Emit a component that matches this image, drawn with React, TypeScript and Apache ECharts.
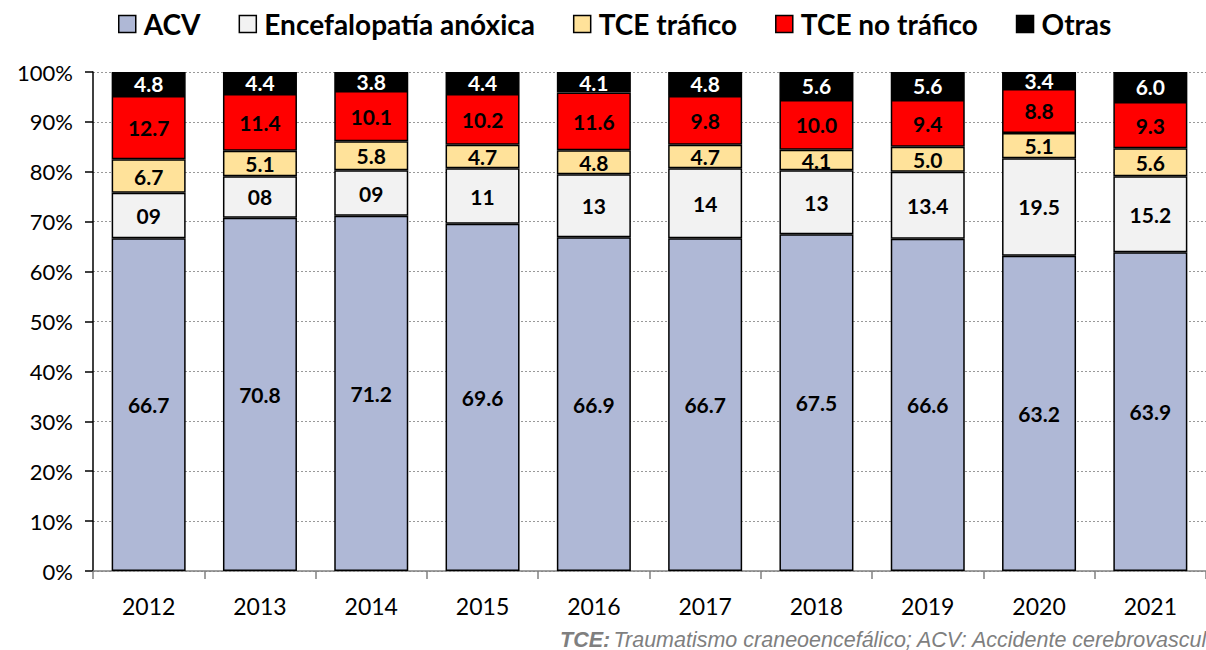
import React, { useEffect, useRef } from "react";
import * as echarts from "echarts";

const years = ["2012", "2013", "2014", "2015", "2016", "2017", "2018", "2019", "2020", "2021"];
const acv = [66.7, 70.8, 71.2, 69.6, 66.9, 66.7, 67.5, 66.6, 63.2, 63.9];
const encef = [9.1, 8.3, 9.1, 11.1, 12.6, 14.0, 12.8, 13.4, 19.5, 15.2];
const encefLabels = ["09", "08", "09", "11", "13", "14", "13", "13.4", "19.5", "15.2"];
const tceTrafico = [6.7, 5.1, 5.8, 4.7, 4.8, 4.7, 4.1, 5.0, 5.1, 5.6];
const tceNoTrafico = [12.7, 11.4, 10.1, 10.2, 11.6, 9.8, 10.0, 9.4, 8.8, 9.3];
const otras = [4.8, 4.4, 3.8, 4.4, 4.1, 4.8, 5.6, 5.6, 3.4, 6.0];
const yTicks = [0, 10, 20, 30, 40, 50, 60, 70, 80, 90, 100];

const seriesNames = ["ACV", "Encefalopatía anóxica", "TCE tráfico", "TCE no tráfico", "Otras"];
const seriesColors = ["#AFB8D6", "#F2F2F2", "#FFE29A", "#FF0000", "#000000"];
const labelColors = ["#000", "#000", "#000", "#000", "#fff"];

export default function App() {
  const ref = useRef<HTMLDivElement>(null);
  useEffect(() => {
    if (!ref.current) return;
    const chart = echarts.init(ref.current, undefined, { renderer: "svg" });
    const data = [acv, encef, tceTrafico, tceNoTrafico, otras];
    const labelTexts = [
      acv.map((v) => v.toFixed(1)),
      encefLabels,
      tceTrafico.map((v) => v.toFixed(1)),
      tceNoTrafico.map((v) => v.toFixed(1)),
      otras.map((v) => v.toFixed(1)),
    ];
    const font = "Lato, 'Open Sans', sans-serif";
    chart.setOption({
      animation: false,
      legend: {
        top: 5,
        left: 113,
        icon: "rect",
        itemWidth: 17,
        itemHeight: 17,
        itemGap: 38,
        itemStyle: { borderColor: "#000", borderWidth: 1.5 },
        textStyle: { fontFamily: font, fontWeight: "bold", fontSize: 28, color: "#000", padding: [0, 0, 0, 3] },
        data: seriesNames,
      },
      grid: { left: 93, right: 0, top: 72, bottom: 79, containLabel: false },
      xAxis: {
        type: "category",
        data: years,
        axisLine: { lineStyle: { color: "#808080", width: 1.5 } },
        axisTick: { show: true, length: 8, lineStyle: { color: "#808080", width: 1.5 } },
        axisLabel: { fontFamily: font, fontSize: 23, color: "#000", margin: 23 },
      },
      yAxis: {
        type: "value",
        min: 0,
        max: 100,
        interval: 10,
        axisLine: { show: true, lineStyle: { color: "#000", width: 1.5 } },
        axisTick: { show: true, length: 8, lineStyle: { color: "#000", width: 1.5 } },
        axisLabel: {
          fontFamily: font,
          fontSize: 22,
          color: "#000",
          margin: 20,
          formatter: (v: number) => (yTicks.includes(v) ? v + "%" : ""),
        },
        splitLine: { show: true, lineStyle: { color: "#999", type: [2, 2], width: 1.2 } },
      },
      series: seriesNames.map((name, i) => ({
        name,
        type: "bar",
        stack: "total",
        data: data[i],
        barWidth: 74,
        itemStyle: { color: seriesColors[i], borderColor: "#000", borderWidth: 1.5 },
        label: {
          show: true,
          position: "inside",
          fontFamily: font,
          fontWeight: "bold",
          fontSize: 21,
          color: labelColors[i],
          formatter: (p: any) => labelTexts[i][p.dataIndex],
        },
      })),
      graphic: [
        {
          type: "text",
          left: 560,
          top: 629,
          style: {
            text: "{b|TCE:} {n|Traumatismo craneoencefálico; ACV: Accidente cerebrovascular}",
            rich: {
              b: { fontFamily: "'Liberation Sans', Arial, sans-serif", fontStyle: "italic", fontWeight: "bold", fontSize: 21.5, fill: "#7F7F7F" },
              n: { fontFamily: "'Liberation Sans', Arial, sans-serif", fontStyle: "italic", fontSize: 21.5, fill: "#7F7F7F" },
            },
          },
        },
      ],
    });
    return () => chart.dispose();
  }, []);
  return <div ref={ref} style={{ width: 1206, height: 650, position: "absolute", left: 0, top: 0 }} />;
}
